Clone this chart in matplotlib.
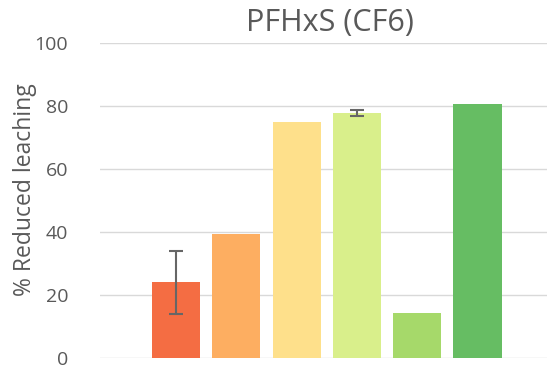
import numpy as np
import matplotlib.pyplot as plt

plt.rcParams['font.family'] = ['Open Sans', 'DejaVu Sans']

categories = ['1', '2', '3', '4', '5', '6']
values = [24.1, 39.4, 75.0, 77.8, 14.3, 80.6]
errors = [10.0, 0, 0, 1.0, 0, 0]
colors = ['#F46D43', '#FDAE61', '#FEE08B', '#D9EF8B', '#A6D96A', '#66BD63']

fig = plt.figure(figsize=(5.47, 3.69), dpi=100)
ax = fig.add_axes([100 / 547, 11 / 369, 447 / 547, 315 / 369])

x = np.arange(len(categories))
ax.bar(x, values, width=0.8, color=colors, zorder=2)
for i in range(len(x)):
    if errors[i] > 0:
        ax.errorbar(x[i], values[i], yerr=errors[i], fmt='none', ecolor='#666666',
                    elinewidth=1.5, capsize=5, capthick=1.5, zorder=3)

ax.set_xlim(-1.26, 6.15)
ax.set_ylim(0, 100)
ax.set_yticks([0, 20, 40, 60, 80, 100])
ax.set_xticks([])
ax.grid(axis='y', color='#D9D9D9', linewidth=1, zorder=0)
for s in ax.spines.values():
    s.set_visible(False)
ax.tick_params(axis='y', length=0, labelsize=14, labelcolor='#595959', pad=23)

ax.set_ylabel('% Reduced leaching', fontsize=16.5, color='#595959', va='center')
ax.yaxis.set_label_coords(-75 / 447, 0.533)
fig.text(330 / 547, 1 - 23 / 369, 'PFHxS (CF6)', fontsize=22, color='#595959', ha='center', va='center')

fig.savefig('out.png')
